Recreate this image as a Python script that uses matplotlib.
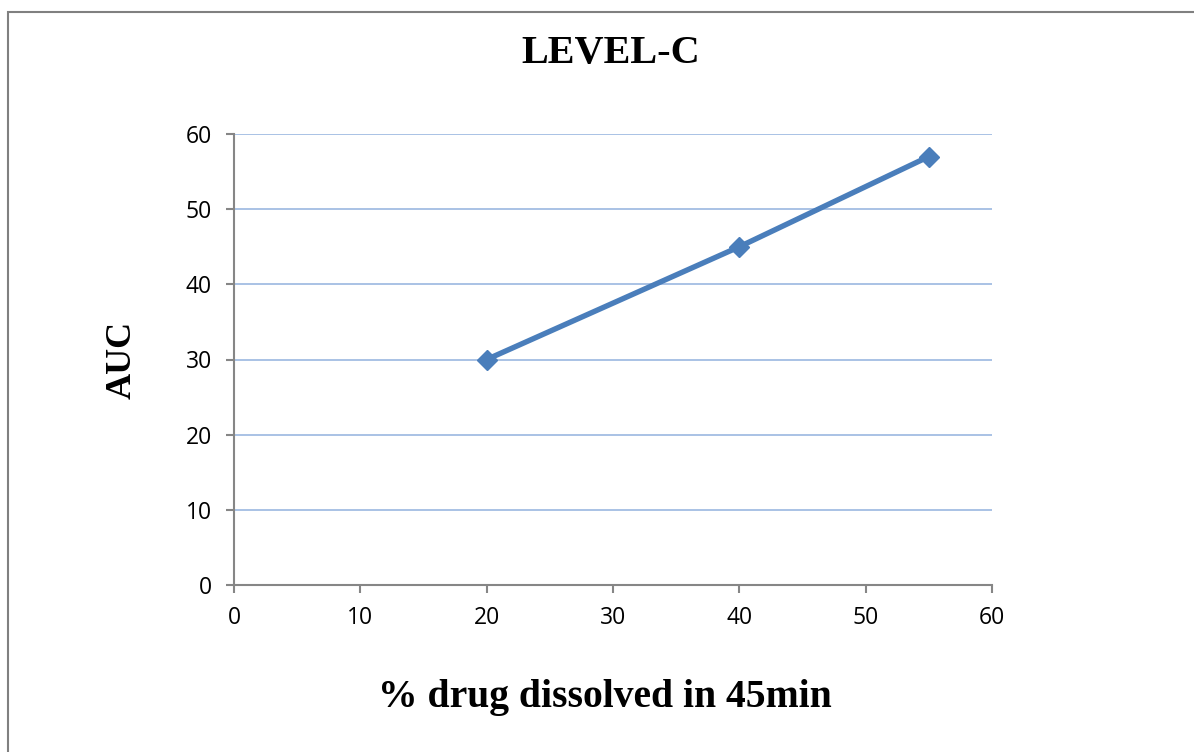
import matplotlib
matplotlib.use('Agg')
import matplotlib.pyplot as plt
from matplotlib.patches import Rectangle

# data
pct_dissolved = [20, 40, 55]
auc = [30, 45, 57]
x_ticks = [0, 10, 20, 30, 40, 50, 60]
y_ticks = [0, 10, 20, 30, 40, 50, 60]

line_col = '#4A7EBB'
grid_col = '#9BB7E0'
spine_col = '#868686'

fig = plt.figure(figsize=(11.94, 7.52), dpi=100)
ax = fig.add_axes([234/1194, 1 - 585/752, (992-234)/1194, (585-134)/752])

ax.plot(pct_dissolved, auc, color=line_col, lw=3.9, marker='D', markersize=10.5,
        markerfacecolor=line_col, markeredgecolor=line_col, zorder=3)

ax.set_xlim(0, 60)
ax.set_ylim(0, 60)
ax.set_xticks(x_ticks)
ax.set_yticks(y_ticks)
ax.yaxis.grid(True, color=grid_col, lw=1.2)
ax.set_axisbelow(True)

for s in ['top', 'right']:
    ax.spines[s].set_visible(False)
for s in ['left', 'bottom']:
    ax.spines[s].set_color(spine_col)
    ax.spines[s].set_linewidth(1.5)

ax.tick_params(axis='both', colors=spine_col, length=6, width=1.5,
               labelcolor='black', labelsize=16.5)
ax.tick_params(axis='x', pad=9)
ax.tick_params(axis='y', pad=10)
for lab in ax.get_xticklabels() + ax.get_yticklabels():
    lab.set_fontfamily('Open Sans')

fig.text(611/1194, 1 - 53/752, 'LEVEL-C', ha='center', va='center',
         fontsize=29, fontweight='bold', family='Liberation Serif')
fig.text(605/1194, 1 - 697/752, '% drug dissolved in 45min', ha='center', va='center',
         fontsize=28.5, fontweight='bold', family='Liberation Serif')
fig.text(122/1194, 1 - 360/752, 'AUC', ha='center', va='center', rotation=90,
         fontsize=26, fontweight='bold', family='Liberation Serif')

# outer chart border (runs off the right and bottom of the picture)
fig.patches.append(Rectangle((8/1194, -1), 2, 1 + (1 - 12/752), transform=fig.transFigure,
                             fill=False, edgecolor='#808080', lw=1.5))

fig.savefig('out.png', dpi=100)
plt.close()
